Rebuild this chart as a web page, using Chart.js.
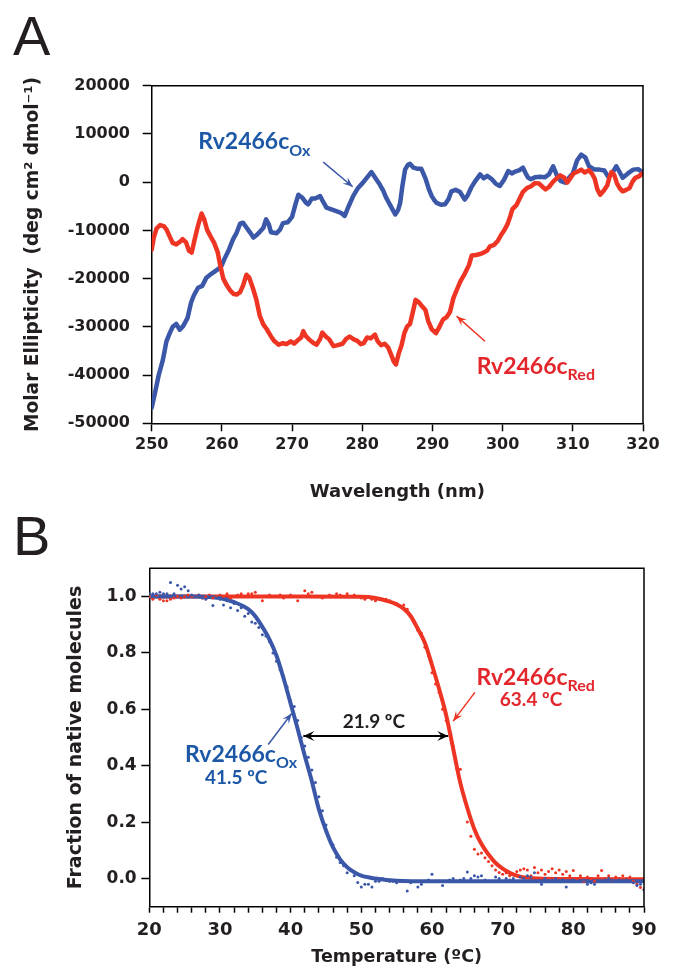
<!DOCTYPE html>
<html><head><meta charset="utf-8">
<script src="https://cdn.jsdelivr.net/npm/chart.js@4/dist/chart.umd.min.js"></script>
<style>
html,body{margin:0;padding:0;background:#fff;width:678px;height:971px;overflow:hidden;position:relative}
canvas{position:absolute;left:0}
#ca{top:0}
#cb{top:520px}
.lbl{position:absolute;font-family:"Liberation Sans",Arial,sans-serif;font-size:56px;color:#231f20;line-height:1}
</style></head><body>
<div class="lbl" style="left:13px;top:8px">A</div>
<div class="lbl" style="left:13px;top:508px">B</div>
<canvas id="ca" width="678" height="520"></canvas>
<canvas id="cb" width="678" height="451"></canvas>
<script>
// ---------- Panel A: CD spectra ----------
const wlOx = [250.0,250.5,251.0,251.6,252.1,252.6,253.0,253.5,254.0,254.5,
255.1,255.6,256.0,256.6,257.2,257.8,258.5,259.3,259.9,260.4,
261.0,261.6,262.1,262.6,263.0,263.5,264.0,264.5,265.0,265.4,
265.9,266.3,266.7,267.0,267.8,268.3,268.7,269.4,270.0,270.5,
270.9,271.5,272.0,272.3,272.8,273.3,274.0,274.4,274.9,275.5,
276.3,277.0,277.5,278.0,278.7,279.4,280.1,280.7,281.3,281.8,
282.5,283.0,283.4,284.0,284.7,285.1,285.4,285.7,286.1,286.5,
286.8,287.3,287.8,288.4,289.0,289.5,289.9,290.3,290.6,291.2,
291.8,292.3,292.7,293.3,293.9,294.6,295.0,295.5,296.0,296.8,
297.3,297.8,298.4,299.0,299.6,300.2,300.8,301.3,301.8,302.4,
302.9,303.3,303.6,304.0,304.6,305.3,306.0,306.6,307.2,307.7,
308.3,308.9,309.4,310.0,310.6,311.2,311.8,312.3,313.1,313.8,
314.5,315.0,315.5,316.2,316.7,317.1,317.6,318.1,318.6,319.3,
320.0];
const cdOx = [-46800,-43500,-40000,-36800,-33000,-31200,-30000,-29400,-30600,-29800,
-28200,-25000,-23500,-21900,-21500,-19800,-19000,-18200,-17500,-15800,
-14000,-11800,-10500,-8600,-8400,-9400,-10400,-11500,-10900,-10300,
-9500,-7700,-8800,-10400,-10600,-9800,-8500,-8300,-7200,-4500,
-2600,-3300,-4300,-4600,-3400,-3400,-2900,-4000,-5300,-5600,
-6000,-6400,-7000,-5200,-2900,-1200,-100,1000,2100,1000,
-500,-1800,-3200,-4800,-6700,-5800,-4300,-1000,2600,3600,
3800,3000,2800,2800,800,-1500,-2900,-3800,-4300,-4700,
-4600,-3500,-1900,-1600,-2000,-3600,-2800,-1200,0,1600,
800,1300,700,-300,-800,500,2300,1800,2200,2500,
3000,1800,1000,600,1000,1100,1000,1600,3300,1500,
200,-100,800,1800,4500,5700,5100,3300,2600,2600,
2400,1200,1600,3300,2000,900,1500,2100,2600,2700,
2000];
const wlRed = [250.0,250.3,250.7,251.2,251.7,252.1,252.6,253.0,253.5,254.0,
254.4,254.9,255.3,255.7,256.1,256.6,257.1,257.5,257.9,258.4,
258.9,259.4,259.8,260.2,260.7,261.2,261.7,262.1,262.6,263.0,
263.5,263.9,264.4,264.9,265.4,265.9,266.4,267.0,267.5,268.1,
268.7,269.2,269.8,270.3,270.8,271.3,271.6,272.0,272.5,273.0,
273.5,274.0,274.3,274.8,275.3,275.9,276.5,277.2,277.7,278.2,
278.8,279.3,279.8,280.2,280.7,281.2,281.8,282.2,282.7,283.2,
283.7,284.1,284.5,284.8,285.2,285.6,286.0,286.4,286.8,287.2,
287.6,288.0,288.5,289.0,289.4,289.9,290.5,291.0,291.5,292.0,
292.5,293.0,293.5,294.0,294.6,295.2,295.6,296.2,296.8,297.3,
297.8,298.2,298.8,299.3,299.8,300.3,300.7,301.1,301.4,302.0,
302.5,302.9,303.5,304.0,304.6,305.2,305.7,306.1,306.6,307.2,
307.7,308.2,308.8,309.2,309.6,310.1,310.7,311.2,311.7,312.3,
312.7,313.1,313.5,313.9,314.4,314.9,315.2,315.5,315.9,316.3,
316.7,317.1,317.6,318.1,318.5,318.9,319.4,320.0];
const cdRed = [-14000,-11500,-9600,-8900,-9100,-9800,-11400,-12600,-12900,-12400,
-11800,-12500,-14200,-14600,-12000,-9000,-6500,-7800,-9900,-11300,
-12600,-14500,-17500,-20000,-21400,-22500,-23200,-23300,-22800,-21500,
-19200,-19800,-21900,-24300,-27700,-29500,-30500,-32000,-33000,-33700,
-33400,-33600,-33000,-33500,-32800,-32200,-30900,-32000,-32700,-33300,
-33700,-32500,-31200,-32000,-32600,-34000,-33800,-33500,-32500,-32000,
-32600,-32900,-33600,-33400,-32200,-32400,-31600,-33000,-33800,-33500,
-34300,-35700,-37200,-37800,-35500,-33800,-31300,-29900,-29400,-27000,
-24400,-24800,-25700,-26500,-28800,-30500,-31300,-30000,-28500,-28000,
-26900,-24000,-22200,-20500,-19000,-17200,-15200,-15100,-14900,-14600,
-14200,-13300,-13000,-12200,-10900,-9800,-8700,-7000,-5600,-4700,
-3200,-2000,-1200,-900,-200,-300,-1000,-1500,-1000,100,
800,1400,900,-100,700,1800,2200,2600,2000,2500,
1800,800,-1500,-2600,-1800,-700,900,2100,1500,-300,
-1300,-1900,-1600,-1200,100,900,1200,1900];
const wlTicks = [250,260,270,280,290,300,310,320];
const cdTicks = [-50000,-40000,-30000,-20000,-10000,0,10000,20000];

// ---------- Panel B: thermal melts ----------
const tempPts = [20,20.5,21,21.5,22,22.5,23,23.5,24,24.5,25,25.5,26,26.5,27,27.5,28,28.5,29,29.5,
30,30.5,31,31.5,32,32.5,33,33.5,34,34.5,35,35.5,36,36.5,37,37.5,38,38.5,39,39.5,
40,40.5,41,41.5,42,42.5,43,43.5,44,44.5,45,45.5,46,46.5,47,47.5,48,48.5,49,49.5,
50,50.5,51,51.5,52,52.5,53,53.5,54,54.5,55,55.5,56,56.5,57,57.5,58,58.5,59,59.5,
60,60.5,61,61.5,62,62.5,63,63.5,64,64.5,65,65.5,66,66.5,67,67.5,68,68.5,69,69.5,
70,70.5,71,71.5,72,72.5,73,73.5,74,74.5,75,75.5,76,76.5,77,77.5,78,78.5,79,79.5,
80,80.5,81,81.5,82,82.5,83,83.5,84,84.5,85,85.5,86,86.5,87,87.5,88,88.5,89,89.5,90];
const dotsOx = [1.01,1.01,1.01,1.015,1.01,1.01,1.05,1.01,1.04,1.027,
1.035,1.02,1.005,1.0,1.005,0.995,0.99,1.0,0.968,0.995,
0.99,0.97,0.985,0.96,0.975,0.95,0.96,0.93,0.94,0.91,
0.905,0.89,0.864,0.86,0.84,0.8,0.77,0.74,0.717,0.68,
0.63,0.61,0.56,0.5,0.47,0.43,0.385,0.34,0.29,0.24,
0.19,0.14,0.12,0.075,0.057,0.045,0.02,0.03,0.01,-0.014,
-0.03,-0.02,-0.02,-0.03,-0.01,-0.01,0.0,-0.005,-0.01,-0.01,
-0.015,-0.01,-0.01,-0.044,-0.015,-0.01,-0.03,-0.02,-0.01,-0.005,
0.015,-0.01,-0.01,-0.025,-0.01,-0.005,0.0,-0.01,-0.005,0.0,
0.023,0.0,0.01,0.005,0.01,-0.005,-0.01,-0.01,0.005,0.0,
-0.01,0.0,-0.005,0.0,-0.01,0.005,0.0,0.01,0.005,0.02,
-0.01,-0.02,0.0,-0.01,-0.005,0.0,-0.01,-0.005,-0.03,-0.01,
-0.005,-0.01,-0.01,-0.005,-0.02,-0.015,-0.02,-0.01,-0.01,-0.005,
0.0,-0.005,-0.01,-0.005,-0.01,-0.005,-0.01,-0.015,-0.025,-0.02,
-0.04];
const dotsRed = [1.0,0.99,1.005,0.99,0.985,0.985,0.99,0.995,1.0,0.995,
1.0,1.005,1.0,1.0,1.005,0.995,1.0,1.005,0.995,1.0,
1.005,1.0,1.01,0.995,1.0,1.005,1.01,1.0,1.01,1.01,
1.015,1.0,0.985,1.0,1.005,1.0,1.0,1.005,0.995,1.0,
1.005,1.0,0.985,1.0,1.02,1.01,1.015,1.0,1.0,0.995,
1.0,1.005,1.0,1.01,1.005,1.0,1.01,1.0,1.005,1.0,
0.995,0.99,1.0,0.99,0.985,0.99,0.99,0.99,0.985,0.98,
0.975,0.965,0.97,0.955,0.93,0.91,0.88,0.87,0.82,0.79,
0.73,0.69,0.66,0.6,0.56,0.53,0.47,0.39,0.387,0.3,
0.2,0.15,0.104,0.087,0.09,0.074,0.06,0.045,0.03,0.021,
0.015,0.02,0.01,0.015,0.025,0.03,0.035,0.03,0.01,0.039,
0.02,0.03,0.015,0.025,0.035,0.02,0.03,0.015,0.025,0.01,
0.028,0.0,0.01,-0.01,0.005,0.0,-0.01,0.01,0.028,0.0,
0.01,-0.005,0.005,0.0,0.01,0.0,0.005,-0.01,-0.02,-0.032,
-0.04];
const fitTOx = [20,26,28,30,32,34,35,36,37,38,39,40,41,42,43,44,45,46,47,48,49,50,52,55,60,70,80,90];
const fitOx = [1.0,1.0,0.999,0.995,0.98,0.955,0.93,0.892,0.848,0.79,0.71,0.62,0.53,0.435,0.345,0.245,0.17,0.11,0.068,0.04,0.022,0.01,0.0,-0.008,-0.01,-0.01,-0.01,-0.01];
const fitTRed = [20,40,50,52,54,55,56,57,58,59,60,61,62,63,64,65,66,67,68,69,70,71,72,73,75,80,90];
const fitRed = [1.0,1.0,0.999,0.995,0.982,0.972,0.957,0.93,0.885,0.835,0.757,0.673,0.58,0.46,0.34,0.25,0.175,0.122,0.085,0.055,0.035,0.02,0.01,0.004,0.0,-0.002,-0.003];
const tempTicks = [20,22,24,26,28,30,32,34,36,38,40,42,44,46,48,50,52,54,56,58,60,62,64,66,68,70,72,74,76,78,80,82,84,86,88,90];
const tempTickLabels = [20,30,40,50,60,70,80,90];
const fracTicks = [0.0,0.2,0.4,0.6,0.8,1.0];

// ---------- styling ----------
const BLUE = '#3b57a8', RED = '#ee3524', BLUE_TXT = '#1c58a6', RED_TXT = '#e2262c', INK = '#231f20';
const TICKF = {family:'"DejaVu Sans"', weight:'bold', size:16};
const pairs = (xs, ys) => xs.map((x, i) => ({x, y: ys[i]}));

function framePlugin(id){
  return {id, afterDraw(chart){
    const {ctx, chartArea:a} = chart;
    ctx.save(); ctx.strokeStyle = '#000'; ctx.lineWidth = 1.5;
    ctx.beginPath(); ctx.moveTo(a.left, a.top); ctx.lineTo(a.right, a.top); ctx.lineTo(a.right, a.bottom); ctx.stroke();
    ctx.restore();
  }};
}
function annotPlugin(id, ann){
  return {id, afterDraw(chart){
    const {ctx, scales:{x, y}} = chart;
    ctx.save();
    ann.arrows.forEach(a => {
      const x1 = x.getPixelForValue(a.x1), y1 = y.getPixelForValue(a.y1);
      const x2 = x.getPixelForValue(a.x2), y2 = y.getPixelForValue(a.y2);
      ctx.strokeStyle = a.color; ctx.fillStyle = a.color; ctx.lineWidth = a.w;
      ctx.beginPath(); ctx.moveTo(x1, y1); ctx.lineTo(x2, y2); ctx.stroke();
      const head = (px, py, qx, qy) => {
        const ang = Math.atan2(py - qy, px - qx), L = a.hl, W = a.hw;
        ctx.beginPath(); ctx.moveTo(px, py);
        ctx.lineTo(px - L*Math.cos(ang) + W*Math.sin(ang), py - L*Math.sin(ang) - W*Math.cos(ang));
        ctx.lineTo(px - 0.6*L*Math.cos(ang), py - 0.6*L*Math.sin(ang));
        ctx.lineTo(px - L*Math.cos(ang) - W*Math.sin(ang), py - L*Math.sin(ang) + W*Math.cos(ang));
        ctx.closePath(); ctx.fill();
      };
      head(x2, y2, x1, y1);
      if (a.both) head(x1, y1, x2, y2);
    });
    ann.texts.forEach(t => {
      let px = x.getPixelForValue(t.x); const py = y.getPixelForValue(t.y);
      ctx.fillStyle = t.color; ctx.textBaseline = 'alphabetic'; ctx.textAlign = 'left';
      t.parts.forEach(([s, size, dy]) => {
        ctx.font = 'bold ' + size + 'px Lato';
        ctx.fillText(s, px, py + dy);
        px += ctx.measureText(s).width;
      });
    });
    ctx.restore();
  }};
}

const annA = {
  texts: [
    {x:256.64, y:6780, color:BLUE_TXT, parts:[['Rv2466c',23,0],['Ox',16,7]]},
    {x:296.3, y:-39680, color:RED_TXT, parts:[['Rv2466c',23,0],['Red',16,6]]}
  ],
  arrows: [
    {x1:274.45, y1:4150, x2:278.64, y2:-950, color:BLUE, w:1.5, hl:10, hw:4},
    {x1:297.48, y1:-32980, x2:293.45, y2:-27790, color:RED, w:1.5, hl:10, hw:4}
  ]
};
const annB = {
  texts: [
    {x:66.31, y:0.6875, color:RED_TXT, parts:[['Rv2466c',23,0],['Red',16,6]]},
    {x:69.6, y:0.611, color:RED_TXT, parts:[['63.4 ºC',19,0]]},
    {x:25.05, y:0.4126, color:BLUE_TXT, parts:[['Rv2466c',23,0],['Ox',16,6]]},
    {x:27.88, y:0.3337, color:BLUE_TXT, parts:[['41.5 ºC',19,0]]},
    {x:47.36, y:0.534, color:INK, parts:[['21.9 ºC',19,0]]}
  ],
  arrows: [
    {x1:66.07, y1:0.66, x2:63.0, y2:0.558, color:RED, w:1.5, hl:10, hw:4},
    {x1:36.83, y1:0.475, x2:40.14, y2:0.585, color:BLUE, w:1.5, hl:10, hw:4},
    {x1:41.8, y1:0.505, x2:62.3, y2:0.505, color:'#000', w:2, hl:11, hw:5, both:true}
  ]
};

new Chart(document.getElementById('ca'), {
  type: 'line',
  data: {datasets: [
    {label:'Rv2466c Red', data:pairs(wlRed, cdRed), borderColor:RED, borderWidth:4.5, pointRadius:0, tension:0, borderJoinStyle:'round', borderCapStyle:'round', order:1},
    {label:'Rv2466c Ox', data:pairs(wlOx, cdOx), borderColor:BLUE, borderWidth:4.5, pointRadius:0, tension:0, borderJoinStyle:'round', borderCapStyle:'round', order:2}
  ]},
  options: {
    responsive:false, animation:false, devicePixelRatio:1,
    plugins:{legend:{display:false}, tooltip:{enabled:false}},
    layout:{padding:{left:0, right:35, top:85.7, bottom:0}},
    scales:{
      x:{type:'linear', min:250, max:320,
        afterBuildTicks(s){ s.ticks = wlTicks.map(v => ({value:v})); },
        afterFit(s){ s.height = 96.7; },
        ticks:{autoSkip:false, maxRotation:0, padding:4, color:INK, font:TICKF, callback:v => String(v)},
        grid:{drawOnChartArea:false, tickLength:8, tickColor:'#000', tickWidth:1.5},
        border:{color:'#000', width:1.5},
        title:{display:true, text:'Wavelength (nm)', color:INK, font:{family:'"DejaVu Sans"', weight:'bold', size:18}, padding:{top:0, bottom:17.2}}
      },
      y:{type:'linear', min:-50000, max:20000,
        afterBuildTicks(s){ s.ticks = cdTicks.map(v => ({value:v})); },
        afterFit(s){ s.width = 151.7; },
        ticks:{autoSkip:false, padding:12.7, color:INK, font:TICKF, callback:v => String(v)},
        grid:{drawOnChartArea:false, tickLength:9, tickColor:'#000', tickWidth:1.5},
        border:{color:'#000', width:1.5},
        title:{display:true, text:'Molar Ellipticity  (deg cm² dmol⁻¹)', color:INK, font:{family:'"DejaVu Sans"', weight:'bold', size:18.6}, padding:{top:22, bottom:0}}
      }
    }
  },
  plugins:[framePlugin('frameA'), annotPlugin('annA', annA)]
});

new Chart(document.getElementById('cb'), {
  type: 'line',
  data: {datasets: [
    {label:'Ox data', data:pairs(tempPts, dotsOx), showLine:false, pointRadius:1.5, pointBorderWidth:0, pointBackgroundColor:BLUE, order:1},
    {label:'Red data', data:pairs(tempPts, dotsRed), showLine:false, pointRadius:1.5, pointBorderWidth:0, pointBackgroundColor:RED, order:2},
    {label:'Ox fit', data:pairs(fitTOx, fitOx), borderColor:BLUE, borderWidth:4, pointRadius:0, cubicInterpolationMode:'monotone', order:3},
    {label:'Red fit', data:pairs(fitTRed, fitRed), borderColor:RED, borderWidth:4, pointRadius:0, cubicInterpolationMode:'monotone', order:4}
  ]},
  options: {
    responsive:false, animation:false, devicePixelRatio:1,
    plugins:{legend:{display:false}, tooltip:{enabled:false}},
    layout:{padding:{left:0, right:34, top:48.3, bottom:0}},
    scales:{
      x:{type:'linear', min:20, max:90,
        afterBuildTicks(s){ s.ticks = tempTicks.map(v => ({value:v})); },
        afterFit(s){ s.height = 64.3; },
        ticks:{autoSkip:false, maxRotation:0, padding:7, color:INK, font:{family:'"DejaVu Sans"', weight:'bold', size:18}, callback:v => tempTickLabels.includes(v) ? String(v) : ''},
        grid:{drawOnChartArea:false, tickLength:6, tickColor:'#000', tickWidth:1.5},
        border:{color:'#000', width:1.5},
        title:{display:true, text:'Temperature (ºC)', color:INK, font:{family:'"DejaVu Sans"', weight:'bold', size:17.5}, padding:{top:0, bottom:3.5}}
      },
      y:{type:'linear', min:-0.1, max:1.1,
        afterBuildTicks(s){ s.ticks = fracTicks.map(v => ({value:v})); },
        afterFit(s){ s.width = 149.3; },
        ticks:{autoSkip:false, padding:4.6, color:INK, font:{family:'"DejaVu Sans"', weight:'bold', size:17}, callback:v => v.toFixed(1)},
        grid:{drawOnChartArea:false, tickLength:8, tickColor:'#000', tickWidth:1.5},
        border:{color:'#000', width:1.5},
        title:{display:true, text:'Fraction of native molecules', color:INK, font:{family:'"DejaVu Sans"', weight:'bold', size:19}, padding:{top:64.5, bottom:0}}
      }
    }
  },
  plugins:[framePlugin('frameB'), annotPlugin('annB', annB)]
});
</script>
</body></html>
